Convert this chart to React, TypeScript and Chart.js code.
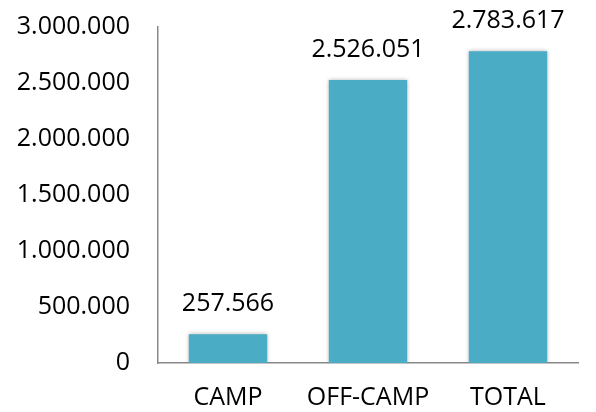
import React, { useEffect, useRef } from "react";
import { Chart, registerables } from "chart.js";

Chart.register(...registerables);

const categories = ["CAMP", "OFF-CAMP", "TOTAL"];
const values = [257566, 2526051, 2783617];
const yMin = 0;
const yMax = 3000000;
const yStep = 500000;

const fmt = (v: number) => String(Math.round(v)).replace(/\B(?=(\d{3})+(?!\d))/g, ".");

const FONT = "'Open Sans', sans-serif";
const FS = 25;

const valueLabels = {
  id: "valueLabels",
  afterDatasetsDraw(chart: any) {
    const ctx = chart.ctx;
    const meta = chart.getDatasetMeta(0);
    ctx.save();
    ctx.font = `${FS}px ${FONT}`;
    ctx.fillStyle = "#000";
    ctx.textAlign = "center";
    ctx.textBaseline = "alphabetic";
    meta.data.forEach((bar: any, i: number) => {
      ctx.fillText(fmt(values[i]), bar.x, bar.y - 23);
    });
    ctx.restore();
  },
};

const barShadow = {
  id: "barShadow",
  beforeDatasetDraw(chart: any) {
    const ctx = chart.ctx;
    ctx.save();
    ctx.shadowColor = "rgba(0,0,0,0.3)";
    ctx.shadowBlur = 4;
    ctx.shadowOffsetX = 0;
    ctx.shadowOffsetY = 0;
  },
  afterDatasetDraw(chart: any) {
    chart.ctx.restore();
  },
};

export default function App() {
  const ref = useRef<HTMLCanvasElement | null>(null);
  useEffect(() => {
    if (!ref.current) return;
    const chart = new Chart(ref.current, {
      type: "bar",
      data: {
        labels: categories,
        datasets: [
          {
            data: values,
            backgroundColor: "#4BACC6",
            borderWidth: 0,
            barPercentage: 0.56,
            categoryPercentage: 1,
          },
        ],
      },
      options: {
        animation: false,
        responsive: false,
        maintainAspectRatio: false,
        layout: { padding: { top: 27, right: 18, left: 0, bottom: 0 } },
        plugins: { legend: { display: false }, tooltip: { enabled: false } },
        scales: {
          x: {
            grid: { display: false },
            border: { display: true, color: "#888", width: 1.5 },
            ticks: { color: "#000", font: { family: FONT, size: FS }, padding: 12 },
            afterFit: (s: any) => {
              s.height = 49;
              s.paddingLeft = 0;
              s.paddingRight = 0;
            },
          },
          y: {
            min: yMin,
            max: yMax,
            grid: { display: false },
            border: { display: true, color: "#888", width: 1.5 },
            ticks: {
              stepSize: yStep,
              color: "#000",
              font: { family: FONT, size: FS },
              padding: 20,
              callback: (v: any) => fmt(Number(v)),
            },
            afterFit: (s: any) => {
              s.width = 158;
              s.paddingTop = 0;
              s.paddingBottom = 0;
            },
          },
        },
      },
      plugins: [barShadow, valueLabels],
    });
    return () => chart.destroy();
  }, []);
  return (
    <div style={{ position: "absolute", left: 0, top: 0, width: 596, height: 412, background: "#fff" }}>
      <canvas ref={ref} width={596} height={412} />
    </div>
  );
}
